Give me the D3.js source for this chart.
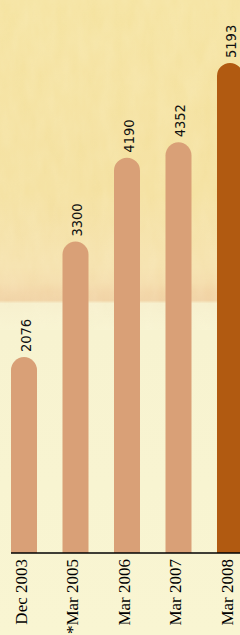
<!DOCTYPE html>
<html>
<head>
<meta charset="utf-8">
<script src="https://cdn.jsdelivr.net/npm/d3@7"></script>
<style>
  html, body { margin: 0; padding: 0; background: #f8f4d0; }
  svg { display: block; }
</style>
</head>
<body>
<svg id="chart"></svg>
<script>
var periods = ['Dec 2003', '*Mar 2005', 'Mar 2006', 'Mar 2007', 'Mar 2008']
var counts = [2076, 3300, 4190, 4352, 5193]
var highlight = 'Mar 2008'

var width = 240, height = 635
var baseY = 553

var svg = d3.select('#chart')
    .attr('width', width)
    .attr('height', height)

// parchment background
var defs = svg.append('defs')
var grad = defs.append('linearGradient')
    .attr('id', 'paper')
    .attr('x1', 0).attr('y1', 0).attr('x2', 0).attr('y2', 1)
var stops = [
    [0, '#f5e3a0'], [0.3, '#f4e09e'], [0.42, '#f5e1ac'], [0.445, '#f4dcaa'],
    [0.46, '#f2d4a4'], [0.473, '#f0d1a2'], [0.478, '#f6efcc'], [0.52, '#f7f3d0'], [1, '#f9f5d2']
]
stops.forEach(function (s) {
    grad.append('stop').attr('offset', s[0]).attr('stop-color', s[1])
})
var filter = defs.append('filter').attr('id', 'grain')
filter.append('feTurbulence')
    .attr('type', 'fractalNoise')
    .attr('baseFrequency', '0.07 0.03')
    .attr('numOctaves', 3)
    .attr('seed', 4)
filter.append('feColorMatrix')
    .attr('values', '0 0 0 0 1  0 0 0 0 0.96  0 0 0 0 0.78  0 0 0 0.4 0')

svg.append('rect')
    .attr('width', width).attr('height', height)
    .attr('fill', 'url(#paper)')
svg.append('rect')
    .attr('width', width).attr('height', 300)
    .attr('filter', 'url(#grain)')
    .attr('opacity', 0.5)

var x = d3.scaleBand()
    .domain(periods)
    .range([11, 243])
    .paddingInner(0.495)
    .paddingOuter(0)

var y = d3.scaleLinear()
    .domain([0, d3.max(counts)])
    .range([baseY, 63])

var bw = x.bandwidth()
var r = bw / 2

function barPath(d, i) {
    var x0 = x(periods[i]), top = y(d)
    return 'M' + x0 + ',' + baseY +
        'V' + (top + r) +
        'A' + r + ',' + r + ' 0 0 1 ' + (x0 + bw) + ',' + (top + r) +
        'V' + baseY + 'Z'
}

svg.selectAll('path.bar')
    .data(counts)
    .enter()
    .append('path')
    .attr('class', 'bar')
    .attr('d', barPath)
    .attr('fill', function (d, i) {
        return periods[i] == highlight ? '#b15a11' : '#d9a077'
    })

svg.selectAll('text.value')
    .data(counts)
    .enter()
    .append('text')
    .attr('class', 'value')
    .attr('transform', function (d, i) {
        return 'translate(' + (x(periods[i]) + r + 6.5) + ',' + (y(d) - 5) + ') rotate(-90)'
    })
    .attr('font-family', 'DejaVu Sans Condensed, DejaVu Sans')
    .attr('font-stretch', 'condensed')
    .attr('font-size', 14.5)
    .attr('fill', '#111')
    .text(function (d) { return d })

var xAxis = d3.axisBottom(x).tickSize(0).tickPadding(0)

var gx = svg.append('g')
    .attr('transform', 'translate(0,' + baseY + ')')
    .call(xAxis)
gx.select('.domain')
    .attr('stroke', '#000')
    .attr('stroke-width', 1.5)
    .attr('d', 'M11,0H' + width)
gx.selectAll('text')
    .attr('font-family', 'Liberation Serif')
    .attr('font-size', 17)
    .attr('fill', '#000')
    .attr('text-anchor', 'end')
    .attr('dy', 0)
    .attr('y', 0)
    .attr('transform', 'translate(2.7,6) rotate(-90)')
</script>
</body>
</html>
